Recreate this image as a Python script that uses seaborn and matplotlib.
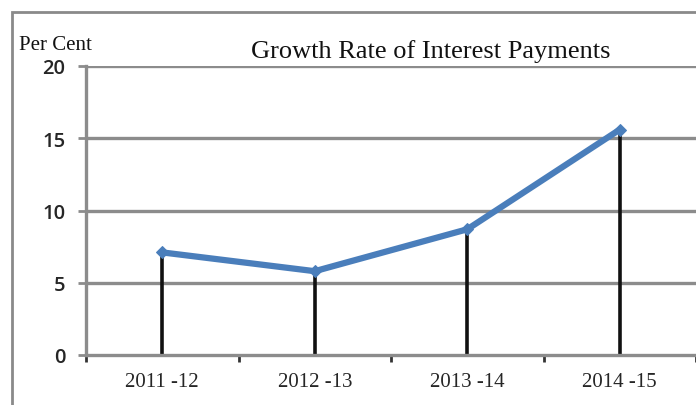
import matplotlib
matplotlib.use("Agg")
import matplotlib.pyplot as plt
import matplotlib.patches as mpatches
import seaborn as sns
import pandas as pd
import numpy as np

# Growth rate of interest payments, per cent
years = ["2011 -12", "2012 -13", "2013 -14", "2014 -15"]
growth = [7.1, 5.8, 8.7, 15.6]
y_ticks = [0, 5, 10, 15, 20]

df = pd.DataFrame({"year": years, "growth": growth})

sns.set_style("white")
plt.rcParams["font.family"] = ["Liberation Serif", "DejaVu Serif"]

fig = plt.figure(figsize=(6.96, 4.06), dpi=100)
ax = fig.add_axes([86 / 696, 1 - 356 / 406, 610 / 696, (356 - 67) / 406])

grid_col = "#8c8c8c"
pos = np.arange(len(years))

# horizontal gridlines
for t in y_ticks[1:]:
    ax.axhline(t, color=grid_col, lw=2.4, zorder=1)

# drop lines from the axis up to each value
ax.vlines(pos, 0, df["growth"], color="#111111", lw=2.6, zorder=2)

sns.lineplot(data=df, x="year", y="growth", ax=ax, color="#4a7ebb", lw=4.5,
             marker="D", markersize=6, markeredgecolor="#4a7ebb", zorder=3,
             sort=False)

ax.set_xlim(-0.5, 3.5)
ax.set_ylim(0, 20)
ax.set_yticks(y_ticks)
ax.set_yticklabels([str(t) for t in y_ticks], family="Open Sans",
                   fontsize=14.5, fontweight="semibold")
ax.set_xticks(pos)
ax.set_xticklabels(years, fontsize=15)
ax.set_xticks(np.arange(-0.5, 4.0, 1.0), minor=True)
ax.tick_params(axis="x", which="major", bottom=True, length=0, pad=12)
ax.tick_params(axis="x", which="minor", bottom=True, length=5, width=2,
               color="#333333", direction="out")
ax.tick_params(axis="y", left=True, length=6, width=2, color=grid_col,
               direction="out", pad=9)
ax.set_xlabel("")
ax.set_ylabel("")

for side in ["top", "right"]:
    ax.spines[side].set_visible(False)
ax.spines["left"].set_color(grid_col)
ax.spines["left"].set_linewidth(2.4)
ax.spines["bottom"].set_color(grid_col)
ax.spines["bottom"].set_linewidth(2.4)
ax.spines["bottom"].set_zorder(2.5)

# chart frame
fig.patches.append(mpatches.Rectangle((12 / 696, -0.1), 1.2, 1 - 13 / 406 + 0.1,
                                      transform=fig.transFigure, fill=False,
                                      edgecolor="#8a8a8a", lw=2, zorder=0))

fig.text(431 / 696, 1 - 52 / 406, "Growth Rate of Interest Payments",
         ha="center", va="center", fontsize=19, color="#111111")
fig.text(19 / 696, 1 - 45 / 406, "Per Cent", ha="left", va="center",
         fontsize=15, color="#111111")

fig.savefig("out.png", dpi=100)
